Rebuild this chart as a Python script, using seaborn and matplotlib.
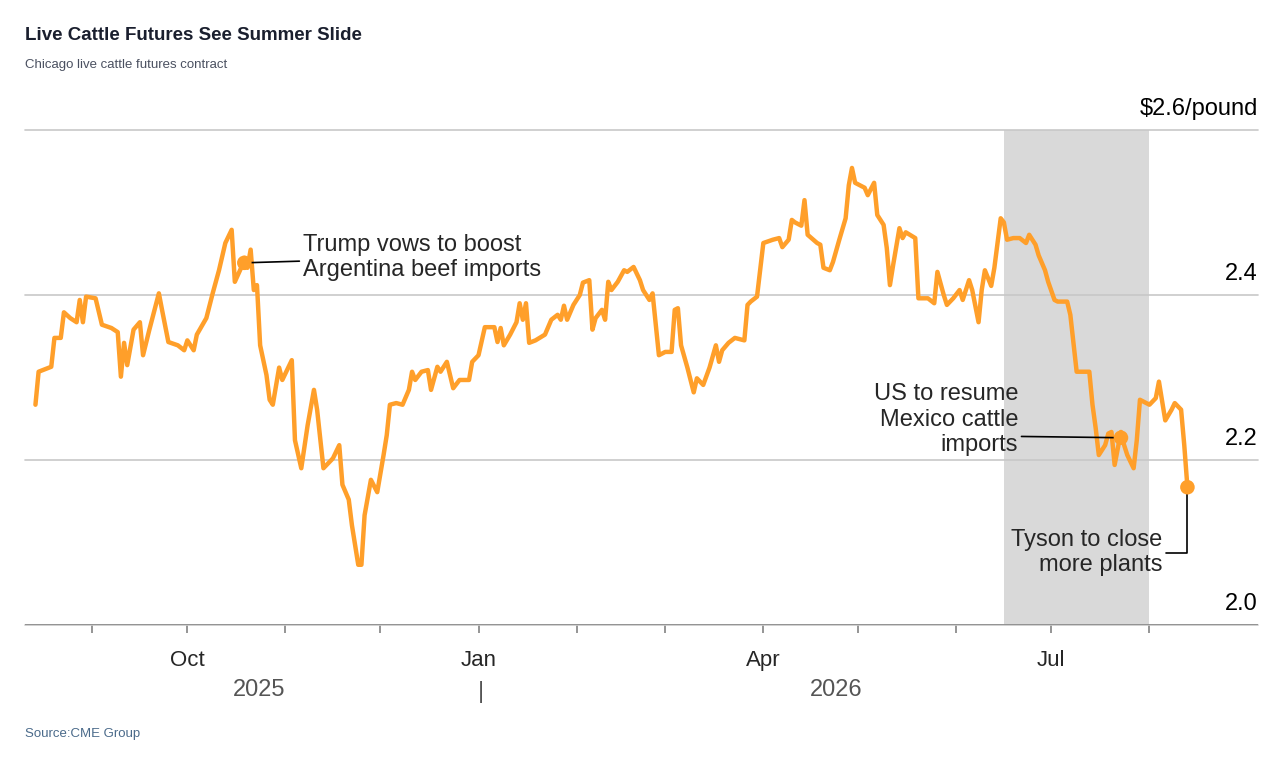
import matplotlib
matplotlib.use("Agg")
import matplotlib.pyplot as plt
import seaborn as sns
import pandas as pd
import numpy as np

start = pd.Timestamp("2025-08-14")
day_offsets = [0,1,5,6,8,9,11,13,14,15,16,19,21,24,26,27,28,29,31,33,34,36,39,40,42,45,47,48,50,51,54,56,58,60,62,63,65,66,67,68,69,70,71,73,74,75,77,78,81,82,84,86,88,89,91,94,96,97,99,100,102,103,104,106,108,110,111,112,114,116,118,119,120,122,124,125,127,128,130,132,134,137,138,140,142,145,146,147,148,150,152,153,154,155,156,158,161,163,165,166,167,168,170,172,173,175,176,177,179,180,181,182,184,186,187,189,191,192,194,195,197,199,201,202,203,204,206,208,209,211,213,215,216,217,219,221,224,225,226,228,229,230,233,235,236,238,239,240,242,243,244,247,248,249,251,252,254,256,257,258,259,261,262,263,265,266,268,269,270,271,273,274,275,278,279,282,284,285,287,288,290,292,293,295,296,298,299,300,302,303,305,306,307,309,311,313,314,316,317,319,320,322,323,326,327,329,331,333,334,335,336,338,339,340,341,343,344,345,347,348,349,351,352,354,355,357,359,360,362,363,364]
prices = [2.267,2.307,2.313,2.348,2.348,2.379,2.372,2.367,2.394,2.367,2.398,2.396,2.364,2.360,2.355,2.301,2.342,2.315,2.358,2.367,2.327,2.358,2.402,2.382,2.343,2.339,2.333,2.345,2.333,2.352,2.372,2.402,2.430,2.463,2.479,2.416,2.433,2.445,2.433,2.455,2.406,2.412,2.339,2.303,2.273,2.267,2.312,2.297,2.321,2.224,2.190,2.242,2.285,2.261,2.190,2.202,2.218,2.170,2.152,2.121,2.073,2.073,2.133,2.176,2.161,2.206,2.230,2.267,2.269,2.267,2.285,2.307,2.297,2.307,2.309,2.285,2.313,2.307,2.319,2.287,2.297,2.297,2.319,2.327,2.361,2.361,2.343,2.360,2.339,2.352,2.367,2.390,2.370,2.390,2.342,2.345,2.352,2.370,2.376,2.370,2.387,2.370,2.388,2.400,2.415,2.418,2.358,2.372,2.382,2.370,2.416,2.406,2.416,2.430,2.428,2.434,2.418,2.406,2.394,2.402,2.327,2.331,2.331,2.382,2.384,2.339,2.312,2.282,2.299,2.291,2.312,2.339,2.319,2.333,2.342,2.348,2.345,2.388,2.392,2.398,2.430,2.463,2.467,2.469,2.458,2.467,2.491,2.488,2.484,2.515,2.473,2.463,2.461,2.433,2.430,2.440,2.467,2.493,2.533,2.554,2.536,2.532,2.530,2.521,2.536,2.497,2.485,2.457,2.412,2.436,2.481,2.469,2.476,2.469,2.396,2.396,2.390,2.428,2.400,2.388,2.396,2.406,2.394,2.418,2.406,2.367,2.406,2.430,2.411,2.433,2.493,2.488,2.467,2.469,2.469,2.463,2.473,2.461,2.448,2.430,2.416,2.394,2.392,2.392,2.376,2.307,2.307,2.307,2.267,2.239,2.206,2.218,2.232,2.234,2.194,2.234,2.218,2.206,2.190,2.224,2.273,2.269,2.267,2.275,2.295,2.248,2.261,2.269,2.261,2.218,2.167]

ann_dates = ["2025-10-19", "2026-07-23", "2026-08-13"]
ann_values = [2.439, 2.227, 2.167]
ann_texts = ["Trump vows to boost\nArgentina beef imports", "US to resume\nMexico cattle\nimports", "Tyson to close\nmore plants"]
shade_start, shade_end = "2026-06-16", "2026-08-01"
y_ticks = [2.0, 2.2, 2.4, 2.6]
y_labels = ["2.0", "2.2", "2.4", "$2.6/pound"]

df = pd.DataFrame({"date": [start + pd.Timedelta(days=d) for d in day_offsets], "price": prices})

sns.set_theme(style="white")
plt.rcParams["font.family"] = ["Liberation Sans", "DejaVu Sans"]
ORANGE = "#FF9F2A"

fig = plt.figure(figsize=(12.84, 7.7), dpi=100)
ax = fig.add_axes([25/1284, 1-625/770, (1258-25)/1284, 495/770])
ax.set_xlim(start - pd.Timedelta(days=3.3), start + pd.Timedelta(days=386.3))
ax.set_ylim(2.0, 2.6)
ax.axvspan(pd.Timestamp(shade_start), pd.Timestamp(shade_end), color="#d9d9d9", lw=0, zorder=0)
for t in y_ticks:
    ax.axhline(t, color="#c8c8c8", lw=1.2, zorder=1, clip_on=False)
sns.lineplot(data=df, x="date", y="price", ax=ax, color=ORANGE, lw=3.2, zorder=3)
for s in ax.spines.values():
    s.set_visible(False)
ax.axhline(2.0, color="#888888", lw=1.2, zorder=2)
ax.set_yticks([]); ax.set_xlabel(""); ax.set_ylabel("")
for t, lab in zip(y_ticks, y_labels):
    ax.text(1.0, t + 0.012, lab, transform=ax.get_yaxis_transform(), ha="right", va="bottom", fontsize=17, color="black")

months = pd.date_range("2025-09-01", "2026-08-01", freq="MS")
ax.set_xticks(months)
major = {"2025-10-01": "Oct", "2026-01-01": "Jan", "2026-04-01": "Apr", "2026-07-01": "Jul"}
ax.set_xticklabels([major.get(m.strftime("%Y-%m-%d"), "") for m in months], fontsize=16)
ax.tick_params(axis="x", length=6, color="#888888", pad=12, bottom=True, direction="out")
fig.text(259/1284, 1-690/770, "2025", fontsize=17, color="#555555", ha="center", va="center")
fig.text(836/1284, 1-690/770, "2026", fontsize=17, color="#555555", ha="center", va="center")
fig.text(481/1284, 1-692/770, "|", fontsize=17, color="#555555", ha="center", va="center")

# annotations
d0, d1, d2 = [pd.Timestamp(d) for d in ann_dates]
for d, v in zip([d0, d1, d2], ann_values):
    ax.scatter([d], [v], s=110, color=ORANGE, zorder=4, edgecolor="none")
ax.annotate(ann_texts[0], xy=(d0, ann_values[0]), xytext=(42, 4), textcoords="offset points",
            ha="left", va="center", fontsize=17,
            arrowprops=dict(arrowstyle="-", color="black", lw=1.2, shrinkA=0, shrinkB=0, relpos=(0, 0.42)))
ax.annotate(ann_texts[1], xy=(d1, ann_values[1]), xytext=(-74, 13), textcoords="offset points",
            ha="right", va="center", fontsize=17,
            arrowprops=dict(arrowstyle="-", color="black", lw=1.2, shrinkA=0, shrinkB=0, relpos=(1, 0.27)))
ax.annotate(ann_texts[2], xy=(d2, ann_values[2]), xytext=(-18, -47), textcoords="offset points",
            ha="right", va="center", fontsize=17,
            arrowprops=dict(arrowstyle="-", color="black", lw=1.2, shrinkA=0, shrinkB=0, relpos=(1, 0.5),
                            connectionstyle="angle,angleA=0,angleB=90,rad=0"))

fig.text(25/1284, 1-36/770, "Live Cattle Futures See Summer Slide", fontsize=13.5, fontweight="bold", color="#1a1f2e", va="center")
fig.text(25/1284, 1-65/770, "Chicago live cattle futures contract", fontsize=9.5, color="#4a5060", va="center")
fig.text(25/1284, 1-734/770, "Source:CME Group", fontsize=9.5, color="#4a6a8a", va="center")
fig.savefig("out.png", dpi=100, facecolor="white")
